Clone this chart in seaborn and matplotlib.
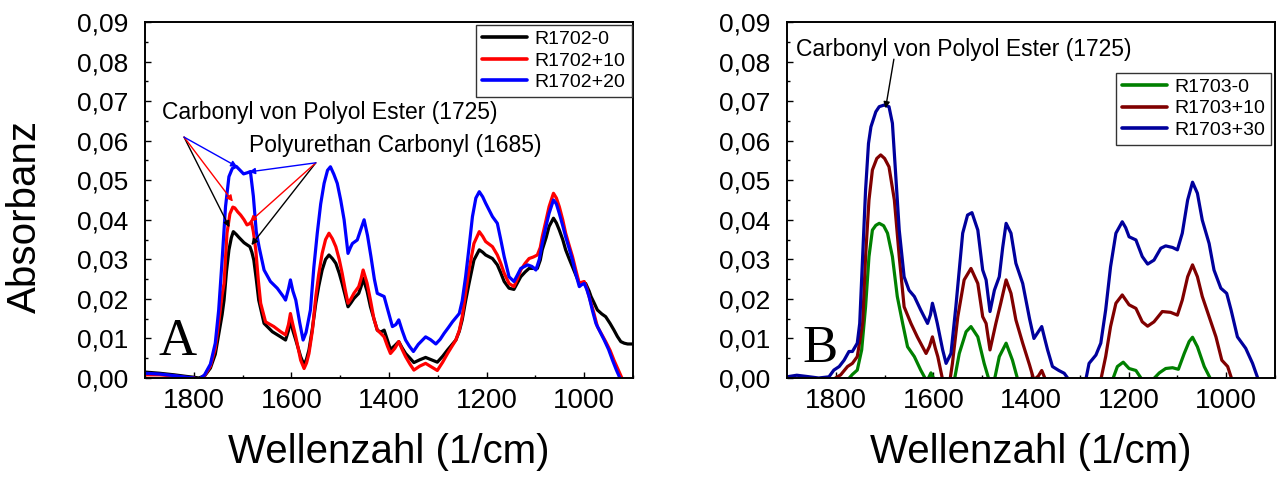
import numpy as np
import pandas as pd
import seaborn as sns
import matplotlib
matplotlib.use("Agg")
import matplotlib.pyplot as plt
from matplotlib.ticker import MultipleLocator, FuncFormatter
from matplotlib.lines import Line2D
from matplotlib import font_manager

# ---------------- data: panel A ----------------
A_labels = ["R1702-0", "R1702+10", "R1702+20"]
A_colors = ["#000000", "#ff0000", "#0000ff"]

A0_w = [1900, 1870, 1840, 1815, 1800, 1790, 1778, 1766, 1756, 1749, 1742, 1738, 1733, 1728, 1723, 1719,
        1713, 1708, 1697, 1690, 1685, 1681, 1677, 1672, 1667, 1656, 1639, 1622, 1612, 1606, 1602, 1597,
        1591, 1581, 1574, 1569, 1564, 1557, 1550, 1544, 1537, 1530, 1523, 1516, 1509, 1502, 1496, 1490,
        1484, 1478, 1472, 1462, 1457, 1453, 1445, 1438, 1431, 1424, 1417, 1410, 1403, 1397, 1388, 1380,
        1373, 1366, 1357, 1349, 1337, 1325, 1313, 1301, 1290, 1280, 1263, 1256, 1250, 1243, 1236, 1226,
        1215, 1208, 1202, 1188, 1178, 1171, 1164, 1154, 1144, 1137, 1130, 1121, 1113, 1104, 1096, 1090,
        1086, 1078, 1072, 1063, 1057, 1051, 1044, 1038, 1031, 1024, 1017, 1010, 1003, 997, 990, 986,
        979, 973, 964, 956, 947, 939, 932, 925, 918, 911, 900]
A0_y = [0.0015, 0.0012, 0.0008, 0.0004, 0.0002, 0.0000, 0.0005, 0.0025, 0.0060, 0.0110, 0.0160, 0.0197,
        0.0270, 0.0324, 0.0355, 0.0370, 0.0363, 0.0356, 0.0342, 0.0336, 0.0332, 0.0318, 0.0298, 0.0250,
        0.0197, 0.0138, 0.0117, 0.0104, 0.0096, 0.0120, 0.0147, 0.0120, 0.0096, 0.0054, 0.0033, 0.0048,
        0.0071, 0.0125, 0.0189, 0.0232, 0.0273, 0.0300, 0.0311, 0.0302, 0.0290, 0.0265, 0.0239, 0.0210,
        0.0180, 0.0190, 0.0201, 0.0214, 0.0232, 0.0252, 0.0220, 0.0180, 0.0150, 0.0121, 0.0116, 0.0121,
        0.0095, 0.0072, 0.0082, 0.0092, 0.0076, 0.0062, 0.0050, 0.0039, 0.0046, 0.0052, 0.0046, 0.0040,
        0.0055, 0.0071, 0.0096, 0.0118, 0.0147, 0.0195, 0.0239, 0.0298, 0.0324, 0.0318, 0.0311, 0.0302,
        0.0286, 0.0266, 0.0244, 0.0227, 0.0224, 0.0240, 0.0256, 0.0268, 0.0277, 0.0277, 0.0277, 0.0298,
        0.0324, 0.0355, 0.0383, 0.0404, 0.0392, 0.0374, 0.0350, 0.0324, 0.0302, 0.0281, 0.0260, 0.0239,
        0.0239, 0.0239, 0.0220, 0.0206, 0.0188, 0.0172, 0.0162, 0.0155, 0.0138, 0.0121, 0.0105, 0.0092,
        0.0088, 0.0086, 0.0086]

A10_w = [1900, 1870, 1840, 1815, 1800, 1790, 1778, 1766, 1756, 1749, 1742, 1738, 1732, 1726, 1720, 1716,
         1710, 1704, 1697, 1691, 1686, 1682, 1678, 1673, 1668, 1663, 1653, 1636, 1622, 1612, 1606, 1602,
         1597, 1591, 1581, 1574, 1569, 1564, 1557, 1550, 1544, 1537, 1530, 1523, 1516, 1509, 1502, 1496,
         1490, 1484, 1478, 1472, 1462, 1457, 1453, 1445, 1438, 1431, 1424, 1417, 1410, 1403, 1397, 1388,
         1380, 1373, 1366, 1357, 1349, 1337, 1325, 1313, 1301, 1290, 1280, 1263, 1256, 1250, 1243, 1236,
         1226, 1215, 1208, 1202, 1188, 1178, 1171, 1164, 1154, 1144, 1137, 1130, 1121, 1113, 1104, 1096,
         1090, 1086, 1078, 1072, 1063, 1057, 1051, 1044, 1038, 1031, 1024, 1017, 1010, 1005, 1000, 995,
         990, 981, 973, 964, 956, 947, 939, 930, 921, 910, 900]
A10_y = [0.0008, 0.0008, 0.0005, 0.0001, 0.0000, -0.0004, 0.0006, 0.0030, 0.0075, 0.0140, 0.0210, 0.0239,
         0.0366, 0.0415, 0.0432, 0.0430, 0.0420, 0.0412, 0.0400, 0.0387, 0.0390, 0.0395, 0.0370, 0.0324,
         0.0250, 0.0189, 0.0142, 0.0130, 0.0117, 0.0109, 0.0135, 0.0163, 0.0135, 0.0104, 0.0045, 0.0024,
         0.0038, 0.0062, 0.0120, 0.0206, 0.0262, 0.0315, 0.0350, 0.0366, 0.0352, 0.0332, 0.0300, 0.0265,
         0.0225, 0.0189, 0.0200, 0.0214, 0.0231, 0.0252, 0.0273, 0.0240, 0.0197, 0.0150, 0.0121, 0.0113,
         0.0104, 0.0080, 0.0062, 0.0075, 0.0092, 0.0072, 0.0054, 0.0035, 0.0020, 0.0030, 0.0037, 0.0028,
         0.0019, 0.0040, 0.0062, 0.0096, 0.0120, 0.0155, 0.0215, 0.0273, 0.0340, 0.0370, 0.0358, 0.0345,
         0.0332, 0.0311, 0.0290, 0.0265, 0.0239, 0.0231, 0.0250, 0.0273, 0.0290, 0.0302, 0.0306, 0.0311,
         0.0330, 0.0357, 0.0400, 0.0433, 0.0467, 0.0455, 0.0433, 0.0400, 0.0366, 0.0336, 0.0307, 0.0272,
         0.0239, 0.0242, 0.0244, 0.0228, 0.0206, 0.0168, 0.0130, 0.0110, 0.0092, 0.0070, 0.0045, 0.0020,
         -0.0005, -0.0035, -0.0060]

A20_w = [1900, 1870, 1840, 1815, 1800, 1790, 1778, 1766, 1756, 1749, 1742, 1735, 1728, 1721, 1713, 1705,
         1698, 1690, 1684, 1678, 1672, 1666, 1656, 1643, 1629, 1616, 1612, 1606, 1602, 1597, 1591, 1583,
         1576, 1570, 1561, 1554, 1547, 1540, 1533, 1526, 1520, 1513, 1506, 1499, 1492, 1484, 1479, 1475,
         1465, 1458, 1451, 1444, 1437, 1430, 1424, 1417, 1410, 1402, 1393, 1386, 1380, 1373, 1366, 1358,
         1350, 1340, 1325, 1315, 1304, 1295, 1287, 1278, 1270, 1256, 1250, 1243, 1236, 1229, 1222, 1215,
         1208, 1202, 1195, 1188, 1178, 1171, 1164, 1154, 1144, 1137, 1130, 1116, 1107, 1099, 1092, 1086,
         1078, 1072, 1063, 1057, 1051, 1044, 1038, 1031, 1024, 1017, 1010, 1005, 1000, 995, 990, 983,
         976, 968, 959, 950, 942, 934, 925, 915, 900]
A20_y = [0.0012, 0.0010, 0.0006, 0.0002, 0.0000, -0.0004, 0.0008, 0.0035, 0.0088, 0.0172, 0.0298, 0.0433,
         0.0509, 0.0530, 0.0535, 0.0525, 0.0516, 0.0519, 0.0522, 0.0460, 0.0370, 0.0330, 0.0273, 0.0244,
         0.0227, 0.0205, 0.0197, 0.0225, 0.0248, 0.0220, 0.0197, 0.0140, 0.0096, 0.0115, 0.0172, 0.0280,
         0.0366, 0.0440, 0.0492, 0.0525, 0.0534, 0.0515, 0.0492, 0.0450, 0.0400, 0.0315, 0.0330, 0.0340,
         0.0349, 0.0375, 0.0400, 0.0360, 0.0307, 0.0250, 0.0214, 0.0210, 0.0206, 0.0170, 0.0130, 0.0135,
         0.0147, 0.0120, 0.0096, 0.0080, 0.0067, 0.0085, 0.0104, 0.0097, 0.0086, 0.0098, 0.0113, 0.0128,
         0.0142, 0.0163, 0.0195, 0.0256, 0.0330, 0.0408, 0.0455, 0.0471, 0.0458, 0.0442, 0.0425, 0.0408,
         0.0391, 0.0350, 0.0307, 0.0256, 0.0244, 0.0260, 0.0277, 0.0286, 0.0282, 0.0273, 0.0300, 0.0340,
         0.0385, 0.0416, 0.0450, 0.0440, 0.0416, 0.0385, 0.0357, 0.0328, 0.0298, 0.0262, 0.0231, 0.0236,
         0.0239, 0.0225, 0.0206, 0.0170, 0.0138, 0.0118, 0.0096, 0.0072, 0.0045, 0.0020, -0.0005, -0.0030,
         -0.0060]

# ---------------- data: panel B ----------------
B_labels = ["R1703-0", "R1703+10", "R1703+30"]
B_colors = ["#008000", "#800000", "#00009c"]

B0_w = [1900, 1790, 1776, 1766, 1756, 1747, 1739, 1732, 1725, 1718, 1711, 1702, 1694, 1684, 1674, 1663,
        1653, 1639, 1626, 1615, 1610, 1605, 1598, 1590, 1565, 1557, 1547, 1533, 1523, 1509, 1496, 1486,
        1480, 1475, 1465, 1451, 1438, 1427, 1415, 1245, 1233, 1223, 1211, 1199, 1185, 1172, 1162, 1151,
        1137, 1124, 1110, 1098, 1086, 1076, 1069, 1059, 1045, 1031, 1020, 900]
B0_y = [-0.0030, -0.0030, -0.0005, 0.0009, 0.0020, 0.0071, 0.0180, 0.0307, 0.0374, 0.0386, 0.0391, 0.0385,
        0.0366, 0.0307, 0.0206, 0.0138, 0.0079, 0.0054, 0.0020, -0.0005, 0.0000, 0.0013, -0.0005, -0.0040,
        -0.0040, -0.0005, 0.0062, 0.0117, 0.0130, 0.0104, 0.0037, -0.0005, -0.0030, -0.0005, 0.0054, 0.0088,
        0.0045, -0.0005, -0.0050, -0.0050, -0.0005, 0.0029, 0.0040, 0.0024, 0.0019, -0.0005, -0.0030,
        -0.0005, 0.0013, 0.0024, 0.0026, 0.0022, 0.0062, 0.0092, 0.0103, 0.0079, 0.0029, -0.0005, -0.0050,
        -0.0100]

B10_w = [1900, 1830, 1807, 1790, 1776, 1766, 1756, 1745, 1739, 1732, 1725, 1716, 1708, 1700, 1691, 1680,
         1670, 1660, 1646, 1633, 1615, 1608, 1602, 1596, 1591, 1581, 1575, 1566, 1561, 1550, 1537, 1523,
         1509, 1499, 1492, 1484, 1472, 1462, 1451, 1441, 1431, 1417, 1403, 1394, 1385, 1378, 1370, 1360,
         1270, 1257, 1247, 1237, 1226, 1213, 1199, 1185, 1172, 1161, 1148, 1131, 1114, 1100, 1090, 1079,
         1069, 1059, 1049, 1035, 1021, 1009, 997, 988, 975, 900]
B10_y = [-0.0006, -0.0006, -0.0005, 0.0008, 0.0029, 0.0037, 0.0054, 0.0138, 0.0307, 0.0450, 0.0526, 0.0555,
         0.0564, 0.0555, 0.0534, 0.0450, 0.0307, 0.0180, 0.0138, 0.0104, 0.0062, 0.0080, 0.0104, 0.0075,
         0.0054, -0.0005, -0.0030, -0.0005, 0.0037, 0.0155, 0.0248, 0.0277, 0.0239, 0.0155, 0.0138, 0.0071,
         0.0138, 0.0189, 0.0248, 0.0214, 0.0147, 0.0088, 0.0033, -0.0005, 0.0005, 0.0019, -0.0005, -0.0040,
         -0.0040, -0.0005, 0.0054, 0.0130, 0.0189, 0.0210, 0.0185, 0.0176, 0.0142, 0.0131, 0.0142, 0.0168,
         0.0166, 0.0159, 0.0197, 0.0256, 0.0286, 0.0256, 0.0206, 0.0155, 0.0104, 0.0045, 0.0029, -0.0005,
         -0.0050, -0.0100]

B30_w = [1900, 1880, 1860, 1835, 1814, 1804, 1793, 1783, 1773, 1766, 1756, 1751, 1745, 1739, 1733, 1728,
         1718, 1711, 1701, 1691, 1684, 1677, 1670, 1660, 1650, 1639, 1626, 1612, 1606, 1602, 1597, 1592,
         1581, 1574, 1564, 1554, 1540, 1530, 1521, 1509, 1499, 1492, 1484, 1475, 1465, 1458, 1451, 1441,
         1431, 1417, 1403, 1394, 1386, 1378, 1372, 1366, 1356, 1343, 1332, 1322, 1310, 1295, 1287, 1281,
         1267, 1257, 1247, 1237, 1226, 1213, 1206, 1199, 1185, 1172, 1161, 1148, 1134, 1124, 1110, 1100,
         1090, 1079, 1069, 1059, 1049, 1035, 1025, 1011, 999, 990, 977, 960, 946, 934, 920, 900]
B30_y = [0.0003, 0.0007, 0.0004, 0.0000, 0.0003, 0.0020, 0.0029, 0.0045, 0.0067, 0.0067, 0.0088, 0.0138,
         0.0307, 0.0475, 0.0593, 0.0635, 0.0673, 0.0686, 0.0690, 0.0686, 0.0644, 0.0509, 0.0374, 0.0256,
         0.0222, 0.0206, 0.0172, 0.0138, 0.0160, 0.0189, 0.0165, 0.0138, 0.0071, 0.0037, 0.0062, 0.0180,
         0.0366, 0.0412, 0.0418, 0.0374, 0.0273, 0.0248, 0.0168, 0.0222, 0.0256, 0.0330, 0.0391, 0.0366,
         0.0290, 0.0239, 0.0150, 0.0100, 0.0115, 0.0130, 0.0100, 0.0071, 0.0029, 0.0019, 0.0012, -0.0005,
         -0.0040, -0.0040, 0.0000, 0.0037, 0.0058, 0.0088, 0.0172, 0.0281, 0.0366, 0.0395, 0.0380, 0.0357,
         0.0349, 0.0307, 0.0288, 0.0298, 0.0328, 0.0334, 0.0330, 0.0324, 0.0366, 0.0450, 0.0495, 0.0467,
         0.0399, 0.0340, 0.0273, 0.0227, 0.0214, 0.0172, 0.0104, 0.0075, 0.0037, -0.0005, -0.0050, -0.0100]

y_ticks = [0.00, 0.01, 0.02, 0.03, 0.04, 0.05, 0.06, 0.07, 0.08, 0.09]
x_ticks = [1800, 1600, 1400, 1200, 1000]

# ---------------- style ----------------
sns.set_theme(style="white")
plt.rcParams["font.family"] = ["Liberation Sans", "DejaVu Sans"]
plt.rcParams["axes.edgecolor"] = "black"
plt.rcParams["axes.linewidth"] = 1.4
plt.rcParams["text.color"] = "black"
plt.rcParams["axes.labelcolor"] = "black"
plt.rcParams["xtick.color"] = "black"
plt.rcParams["ytick.color"] = "black"
plt.rcParams["xtick.labelcolor"] = "black"
plt.rcParams["ytick.labelcolor"] = "black"

names = {f.name for f in font_manager.fontManager.ttflist}
narrow = "Liberation Sans Narrow" in names
xlab_family = "Liberation Sans Narrow" if narrow else "Liberation Sans"
xlab_size = 35 if narrow else 29


def frame(w_list, y_list, labels):
    parts = []
    for w, y, lab in zip(w_list, y_list, labels):
        parts.append(pd.DataFrame({"w": w, "a": y, "sample": lab}))
    return pd.concat(parts, ignore_index=True)


dfA = frame([A0_w, A10_w, A20_w], [A0_y, A10_y, A20_y], A_labels)
dfB = frame([B0_w, B10_w, B30_w], [B0_y, B10_y, B30_y], B_labels)

fig = plt.figure(figsize=(12.77, 4.78), dpi=100)
W, H = 1277, 478
axA = fig.add_axes([145 / W, 100 / H, 488 / W, 356 / H])
axB = fig.add_axes([787 / W, 100 / H, 488 / W, 356 / H])

for ax, df, labels, colors in [(axA, dfA, A_labels, A_colors), (axB, dfB, B_labels, B_colors)]:
    sns.lineplot(data=df, x="w", y="a", hue="sample", hue_order=labels,
                 palette=dict(zip(labels, colors)), estimator=None, errorbar=None,
                 linewidth=2.3, legend=False, ax=ax)
    for ln in ax.get_lines():
        ln.set_solid_joinstyle("round")
        ln.set_solid_capstyle("round")
    ax.set_xlim(1900, 900)
    ax.set_ylim(0, 0.09)
    ax.set_xticks(x_ticks)
    ax.xaxis.set_minor_locator(MultipleLocator(100))
    ax.set_yticks(y_ticks)
    ax.yaxis.set_minor_locator(MultipleLocator(0.005))
    ax.yaxis.set_major_formatter(FuncFormatter(lambda v, p: f"{v:.2f}".replace(".", ",")))
    ax.tick_params(which="both", direction="in", top=False, right=False,
                   bottom=True, left=True, color="black", width=1.0)
    ax.tick_params(which="major", length=4)
    ax.tick_params(which="minor", length=2.5)
    ax.tick_params(axis="x", labelsize=20, pad=7, labelcolor="black")
    ax.tick_params(axis="y", labelsize=19, pad=12, labelcolor="black")
    for s in ax.spines.values():
        s.set_color("black")
        s.set_linewidth(1.4)
    ax.set_xlabel("Wellenzahl (1/cm)", family=xlab_family, fontsize=xlab_size, va="center",
                  color="black")
    ax.xaxis.set_label_coords(0.5, -0.208)
    ax.set_ylabel("")

handlesA = [Line2D([], [], color=c, lw=2.6) for c in A_colors]
handlesB = [Line2D([], [], color=c, lw=2.6) for c in B_colors]

axA.set_ylabel("Absorbanz", fontsize=29, va="center", color="black")
axA.yaxis.set_label_coords(-0.246, 0.455)

legA = axA.legend(handlesA, A_labels, loc="upper right", bbox_to_anchor=(0.997, 0.992),
                  borderaxespad=0, fontsize=14, handlelength=2.3, handletextpad=0.4,
                  labelspacing=0.2, borderpad=0.3, frameon=True, fancybox=False,
                  edgecolor="#333333", framealpha=1)
legA.get_frame().set_linewidth(1.0)
legB = axB.legend(handlesB, B_labels, loc="upper right", bbox_to_anchor=(0.992, 0.858),
                  borderaxespad=0, fontsize=14, handlelength=2.3, handletextpad=0.4,
                  labelspacing=0.2, borderpad=0.3, frameon=True, fancybox=False,
                  edgecolor="#333333", framealpha=1)
legB.get_frame().set_linewidth(1.0)
for leg in (legA, legB):
    for t in leg.get_texts():
        t.set_color("black")

# annotations panel A
axA.text(1866, 0.0671, "Carbonyl von Polyol Ester (1725)", fontsize=16.5, ha="left", va="center",
         color="black")
axA.text(1687, 0.0587, "Polyurethan Carbonyl (1685)", fontsize=16.5, ha="left", va="center",
         color="black")
ester_targets = [(1727, 0.0381, "#000000"), (1720, 0.0446, "#ff0000"), (1711, 0.0534, "#0000ff")]
pu_targets = [(1682, 0.0336, "#000000"), (1685, 0.0395, "#ff0000"), (1687, 0.0521, "#0000ff")]
for (tx, ty, c) in ester_targets:
    axA.annotate("", xy=(tx, ty), xytext=(1820, 0.0609),
                 arrowprops=dict(arrowstyle="-|>", color=c, lw=1.0, mutation_scale=9,
                                 shrinkA=0, shrinkB=0))
for (tx, ty, c) in pu_targets:
    axA.annotate("", xy=(tx, ty), xytext=(1550, 0.0544),
                 arrowprops=dict(arrowstyle="-|>", color=c, lw=1.0, mutation_scale=9,
                                 shrinkA=0, shrinkB=0))

# annotation panel B
axB.text(1882, 0.0831, "Carbonyl von Polyol Ester (1725)", fontsize=16.5, ha="left", va="center",
         color="black")
axB.annotate("", xy=(1698, 0.0682), xytext=(1681, 0.0806),
             arrowprops=dict(arrowstyle="-|>", color="black", lw=1.0, mutation_scale=9,
                             shrinkA=0, shrinkB=0))

# panel letters
axA.text(0.0676, 0.065, "A", transform=axA.transAxes, family=["Liberation Serif", "DejaVu Serif"],
         fontsize=38, ha="center", va="baseline", color="black")
axB.text(0.0676, 0.045, "B", transform=axB.transAxes, family=["Liberation Serif", "DejaVu Serif"],
         fontsize=38, ha="center", va="baseline", color="black")

fig.savefig("out.png", dpi=100)
